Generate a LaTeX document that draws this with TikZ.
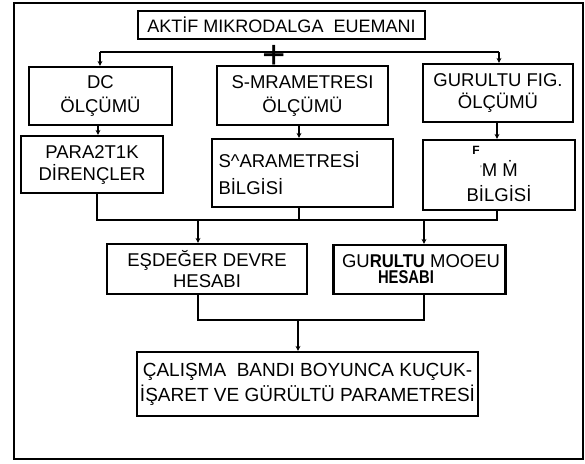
\documentclass[tikz,border=0pt]{standalone}
\usepackage{fontspec}
\setmainfont{Liberation Sans}
\usetikzlibrary{arrows.meta}
\begin{document}
\begin{tikzpicture}[x=1pt,y=-1pt,
  box/.style={draw, line width=2.2pt, inner sep=0pt, align=center, font=\fontsize{18.5}{24}\selectfont},
  txt/.style={inner sep=0pt, font=\fontsize{18.5}{24}\selectfont},
  conn/.style={line width=2pt},
  arr/.style={conn, -{Stealth[length=5pt,width=5pt]}},
]
\useasboundingbox (0,0) rectangle (585,463);
\draw[line width=1.6pt] (14,3) rectangle (583,459);

% boxes
\node[box, minimum width=287pt, minimum height=28pt, font=\fontsize{18}{24}\selectfont] (top) at (281.5,25) {AKTİF MIKRODALGA~ EUEMANI};
\node[box, minimum width=143pt, minimum height=58pt] (dc) at (100.5,96) {DC\\ÖLÇÜMÜ};
\node[box, minimum width=171pt, minimum height=59pt] (smeas) at (302.5,95.5) {S-MRAMETRESI\\ÖLÇÜMÜ};
\node[box, minimum width=150pt, minimum height=58pt, font=\fontsize{18.5}{22}\selectfont] (gmeas) at (498,93) {GURULTU FIG.\\ÖLÇÜMÜ};
\node[box, minimum width=142pt, minimum height=57pt, font=\fontsize{18.5}{22}\selectfont] (para) at (92,164.5) {PARA2T1K\\DİRENÇLER};
\node[box, minimum width=181pt, minimum height=68pt, text width=168pt, align=left,
      font=\fontsize{18.5}{27}\selectfont] (sinfo) at (302.5,173) {S\textasciicircum ARAMETRESİ\\BİLGİSİ};
\node[box, minimum width=152pt, minimum height=70pt] (minfo) at (499,175) {};
\node[txt, align=center, font=\fontsize{18.5}{25}\selectfont] (minfotext) at (499,181) {{\fontsize{8}{8}\selectfont\raisebox{5pt}{'}}M \.{M}\\BİLGİSİ};
\node[inner sep=0pt, font=\fontsize{12}{12}\selectfont\bfseries] (minfomark) at (476,150) {F};
\node[box, minimum width=200pt, minimum height=50pt, font=\fontsize{18.5}{21}\selectfont] (esd) at (207,269) {EŞDEĞER DEVRE\\HESABI};
\node[box, minimum width=172pt, minimum height=49pt] (gmodel) at (419.5,269.5) {};
\node[txt] (gmodel1) at (421,261) {GU\scalebox{0.9}[1]{\textbf{RULTU}} MOOEU};
\node[txt] (gmodel2) at (406,277) {\scalebox{0.8}[1]{\textbf{HESABI}}};
\node[box, minimum width=341pt, minimum height=64pt, font=\fontsize{19}{25}\selectfont] (final) at (307.5,384)
  {ÇALIŞMA~ BANDI BOYUNCA KUÇUK-\\İŞARET VE GÜRÜLTÜ PARAMETRESİ};
\node[inner sep=0pt, font=\fontsize{40}{40}\selectfont] (plus) at (274,57) {+};

% connectors
\coordinate (tl) at (100,52);
\coordinate (tr) at (499,52);
\draw[conn] (tl) -- (tr);
\draw[arr] (tl) -- (dc.north -| tl);
\draw[arr] (tr) -- (gmeas.north -| tr);

\coordinate (c1) at (98,0);
\coordinate (c2) at (299,0);
\coordinate (c3) at (497,0);
\draw[arr] (dc.south -| c1) -- (para.north -| c1);
\draw[arr] (smeas.south -| c2) -- (sinfo.north -| c2);
\draw[arr] (gmeas.south -| c3) -- (minfo.north -| c3);

\coordinate (b1) at (97,220);
\coordinate (b2) at (299,220);
\coordinate (b3) at (497,220);
\draw[conn] (para.south -| b1) -- (b1) -- (b3) -- (minfo.south -| b3);
\draw[conn] (sinfo.south -| b2) -- (b2);

\coordinate (d1) at (198,220);
\coordinate (d2) at (424,220);
\draw[arr] (d1) -- (esd.north -| d1);
\draw[arr] (d2) -- (gmodel.north -| d2);

\coordinate (e1) at (198,320);
\coordinate (e2) at (424,320);
\coordinate (e3) at (298,320);
\draw[conn] (esd.south -| e1) -- (e1) -- (e2) -- (gmodel.south -| e2);
\draw[arr] (e3) -- (final.north -| e3);
\end{tikzpicture}
\end{document}
